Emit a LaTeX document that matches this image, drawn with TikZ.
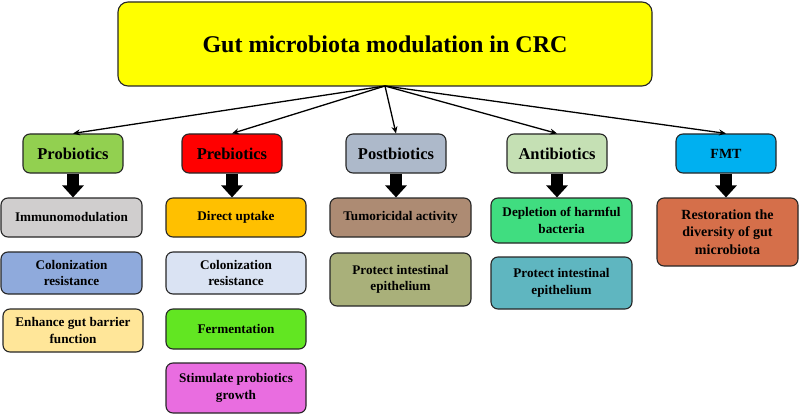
\documentclass[tikz,border=0pt]{standalone}
\usepackage{fontspec}
\setmainfont{Liberation Serif}
\usetikzlibrary{arrows.meta,calc}
\definecolor{cTitle}{HTML}{FFFF00}
\definecolor{cProb}{HTML}{92D050}
\definecolor{cPreb}{HTML}{FF0000}
\definecolor{cPost}{HTML}{ADB9CA}
\definecolor{cAnti}{HTML}{C5E0B4}
\definecolor{cFmt}{HTML}{00B0F0}
\definecolor{cImm}{HTML}{D0CECE}
\definecolor{cColA}{HTML}{8FAADC}
\definecolor{cEnh}{HTML}{FFE699}
\definecolor{cDir}{HTML}{FFC000}
\definecolor{cColB}{HTML}{DAE3F3}
\definecolor{cFer}{HTML}{62E622}
\definecolor{cStim}{HTML}{E96DE0}
\definecolor{cTum}{HTML}{AD8B73}
\definecolor{cProtA}{HTML}{A9B07A}
\definecolor{cDep}{HTML}{40DD80}
\definecolor{cProtB}{HTML}{5FB6C0}
\definecolor{cRes}{HTML}{D56F4A}
\tikzset{
  box/.style={draw=black!85, line width=1.1pt, rounded corners=7pt, align=center,
    inner sep=2pt, font=\bfseries\fontsize{13.2}{16.5}\selectfont},
  headbox/.style={box, minimum width=100pt, minimum height=39pt,
    font=\bfseries\fontsize{16.5}{18}\selectfont},
  thin/.style={draw=black, line width=1.3pt, -{Stealth[length=7pt,width=6pt]}},
  thick/.style={draw=black, line width=12pt, -{Triangle[width=21pt,length=12pt]}}
}
\begin{document}
\begin{tikzpicture}[x=1pt,y=-1pt]
\useasboundingbox (0,0) rectangle (799,414);
% title
\node[box, fill=cTitle, minimum width=534pt, minimum height=84pt, rounded corners=10pt,
  font=\bfseries\fontsize{24}{28}\selectfont] (title) at (385,44) {Gut microbiota modulation in CRC};
% headings
\node[headbox, fill=cProb] (prob) at (73,153.5) {Probiotics};
\node[headbox, fill=cPreb] (preb) at (232,153.5) {Prebiotics};
\node[headbox, fill=cPost] (post) at (396,153.5) {Postbiotics};
\node[headbox, fill=cAnti] (anti) at (557,153.5) {Antibiotics};
\node[headbox, fill=cFmt, font=\bfseries\fontsize{14}{16}\selectfont] (fmt) at (726,153.5) {FMT};
% level 3
\node[box, fill=cImm, minimum width=141pt, minimum height=39pt] (imm) at (71.5,217.5) {Immunomodulation};
\node[box, fill=cColA, minimum width=141pt, minimum height=42pt] (cola) at (71.5,273) {Colonization\\resistance};
\node[box, fill=cEnh, minimum width=140pt, minimum height=43pt] (enh) at (73,330.5) {Enhance gut barrier\\function};
\node[box, fill=cDir, minimum width=140pt, minimum height=39pt] (dir) at (236,217.5) {Direct uptake};
\node[box, fill=cColB, minimum width=140pt, minimum height=42pt] (colb) at (236,273) {Colonization\\resistance};
\node[box, fill=cFer, minimum width=140pt, minimum height=40pt] (fer) at (236,329) {Fermentation};
\node[box, fill=cStim, minimum width=140pt, minimum height=50pt] (stim) at (236,388) {Stimulate probiotics\\growth};
\node[box, fill=cTum, minimum width=141pt, minimum height=39pt] (tum) at (400.5,217.5) {Tumoricidal activity};
\node[box, fill=cProtA, minimum width=141pt, minimum height=53pt] (prota) at (400.5,279.5) {Protect intestinal\\epithelium};
\node[box, fill=cDep, minimum width=141pt, minimum height=45pt] (dep) at (561.5,220.5) {Depletion of harmful\\bacteria};
\node[box, fill=cProtB, minimum width=141pt, minimum height=52pt] (protb) at (561.5,283) {Protect intestinal\\epithelium};
\node[box, fill=cRes, minimum width=141pt, minimum height=68pt, font=\bfseries\fontsize{14}{17.5}\selectfont] (res) at (727.5,232) {Restoration the\\diversity of gut\\microbiota};
% thin arrows
\coordinate (hub) at (385,86);
\draw[thin] (hub) -- (prob.north);
\draw[thin] (hub) -- (preb.north);
\draw[thin] (hub) -- (post.north);
\draw[thin] (hub) -- (anti.north);
\draw[thin] (hub) -- (fmt.north);
% thick arrows
\draw[thick] (prob.south) -- (prob.south |- imm.north);
\draw[thick] (preb.south) -- (preb.south |- dir.north);
\draw[thick] (post.south) -- (post.south |- tum.north);
\draw[thick] (anti.south) -- (anti.south |- dep.north);
\draw[thick] (fmt.south) -- (fmt.south |- res.north);
\end{tikzpicture}
\end{document}
